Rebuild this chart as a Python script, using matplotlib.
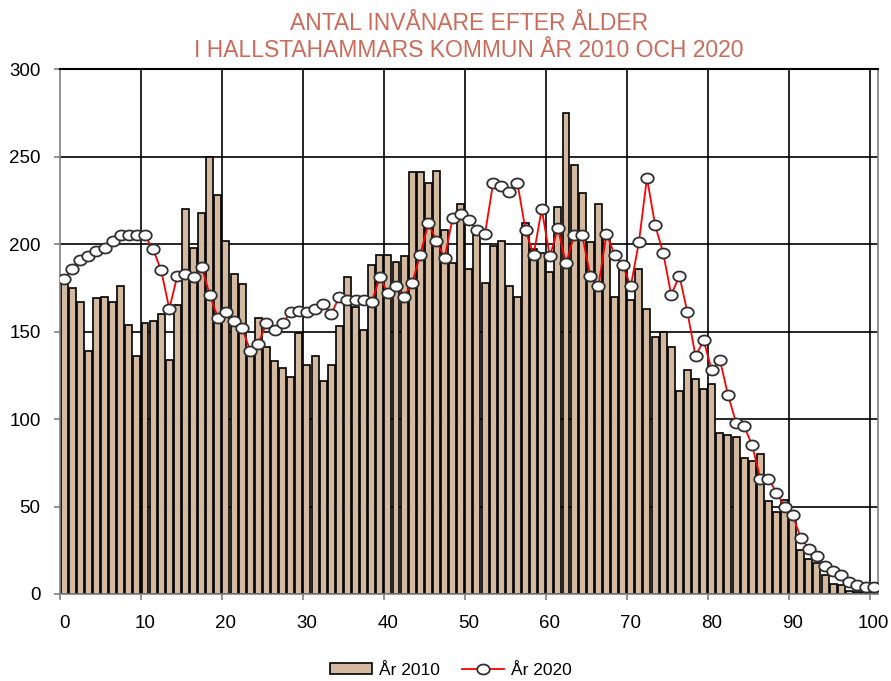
import numpy as np
import matplotlib
matplotlib.use("Agg")
import matplotlib.pyplot as plt
from matplotlib.path import Path
from matplotlib.lines import Line2D
from matplotlib.patches import Patch

ages = list(range(0, 101))
ar_2010 = [178, 175, 167, 139, 169, 170, 167, 176, 154, 136,
           155, 156, 160, 134, 165, 220, 198, 218, 250, 228,
           202, 183, 177, 139, 158, 141, 133, 129, 124, 149,
           131, 136, 122, 131, 153, 181, 164, 151, 188, 194,
           194, 190, 193, 241, 241, 235, 242, 208, 189, 223,
           186, 205, 178, 199, 202, 176, 170, 212, 197, 195,
           184, 221, 275, 245, 229, 201, 223, 205, 170, 187,
           168, 186, 163, 147, 150, 141, 116, 128, 123, 117,
           120, 92, 91, 90, 78, 76, 80, 53, 47, 54,
           46, 25, 20, 18, 11, 6, 5, 2, 1, 1,
           1]
ar_2020 = [180, 186, 191, 193, 196, 198, 202, 205, 205, 205,
           205, 197, 185, 163, 182, 183, 181, 187, 171, 158,
           161, 156, 152, 139, 143, 155, 151, 155, 161, 162,
           161, 163, 166, 160, 170, 168, 168, 168, 167, 181,
           172, 176, 170, 178, 194, 212, 202, 192, 215, 217,
           214, 208, 206, 235, 233, 230, 235, 208, 194, 220,
           193, 209, 189, 205, 205, 182, 176, 206, 194, 188,
           176, 201, 238, 211, 195, 171, 182, 161, 136, 145,
           128, 134, 114, 98, 96, 85, 66, 66, 58, 50,
           45, 32, 26, 22, 16, 13, 11, 7, 5, 4,
           4]
x_labels = [str(v) for v in range(0, 101, 10)]
y_ticks = [0, 50, 100, 150, 200, 250, 300]
title_text = "ANTAL INVÅNARE EFTER ÅLDER\nI HALLSTAHAMMARS KOMMUN ÅR 2010 OCH 2020"
legend_labels = ["År 2010", "År 2020"]

plt.rcParams['font.family'] = ['Liberation Sans', 'DejaVu Sans']

fig = plt.figure(figsize=(8.91, 6.81), dpi=100)
ax = fig.add_axes([60/891, 1-594/681, (877.7-60)/891, (594-69.3)/681])

bar_color = '#D3B9A0'
ax.bar(ages, ar_2010, width=0.86, color=bar_color, edgecolor='black',
       linewidth=1.2, zorder=2)

# elliptical marker
t = np.linspace(0, 2*np.pi, 60)
ell = Path(np.column_stack([1.25*np.cos(t), np.sin(t)]), closed=True)
ax.plot(ages, ar_2020, color='#FF0000', linewidth=1.3, marker=ell,
        markersize=9, markerfacecolor='white', markeredgecolor='#303030',
        markeredgewidth=1.3, zorder=3)

ax.set_xlim(-0.5, 100.5)
ax.set_ylim(0, 300)

# gridlines
for yv in y_ticks[1:]:
    ax.axhline(yv, color='black', linewidth=1.2, zorder=1)
for xv in range(10, 101, 10):
    ax.axvline(xv - 0.5, color='black', linewidth=1.2, zorder=1)

ax.set_xticks(range(0, 101, 10))
ax.set_xticklabels(x_labels)
ax.set_xticks([v - 0.5 for v in range(0, 101, 10)], minor=True)
ax.tick_params(axis='x', which='major', length=0, pad=15, labelsize=13.5)
ax.tick_params(axis='x', which='minor', length=4, color='#808080', width=1.2)
ax.set_yticks(y_ticks)
ax.tick_params(axis='y', which='major', length=4, color='#808080', width=1.2,
               pad=10, labelsize=13.5)

for side in ['left', 'bottom', 'right']:
    ax.spines[side].set_color('#808080')
    ax.spines[side].set_linewidth(1.2)
ax.spines['top'].set_color('black')
ax.spines['top'].set_linewidth(1.5)

fig.text(468.8/891, 1-37/681, title_text, ha='center', va='center',
         color='#CD6B5A', fontsize=16.5, linespacing=1.2,
         family=['Liberation Sans', 'DejaVu Sans'])

handles = [Patch(facecolor=bar_color, edgecolor='black', linewidth=1.2),
           Line2D([0], [0], color='#FF0000', linewidth=1.3, marker=ell,
                  markersize=9, markerfacecolor='white',
                  markeredgecolor='#303030', markeredgewidth=1.3)]
fig.legend(handles, legend_labels, loc='lower center', ncol=2,
           bbox_to_anchor=(451/891, -0.018), frameon=False, fontsize=12.5,
           handlelength=2.4, handleheight=0.55, columnspacing=1.3,
           handletextpad=0.4)

fig.savefig("out.png", dpi=100)
